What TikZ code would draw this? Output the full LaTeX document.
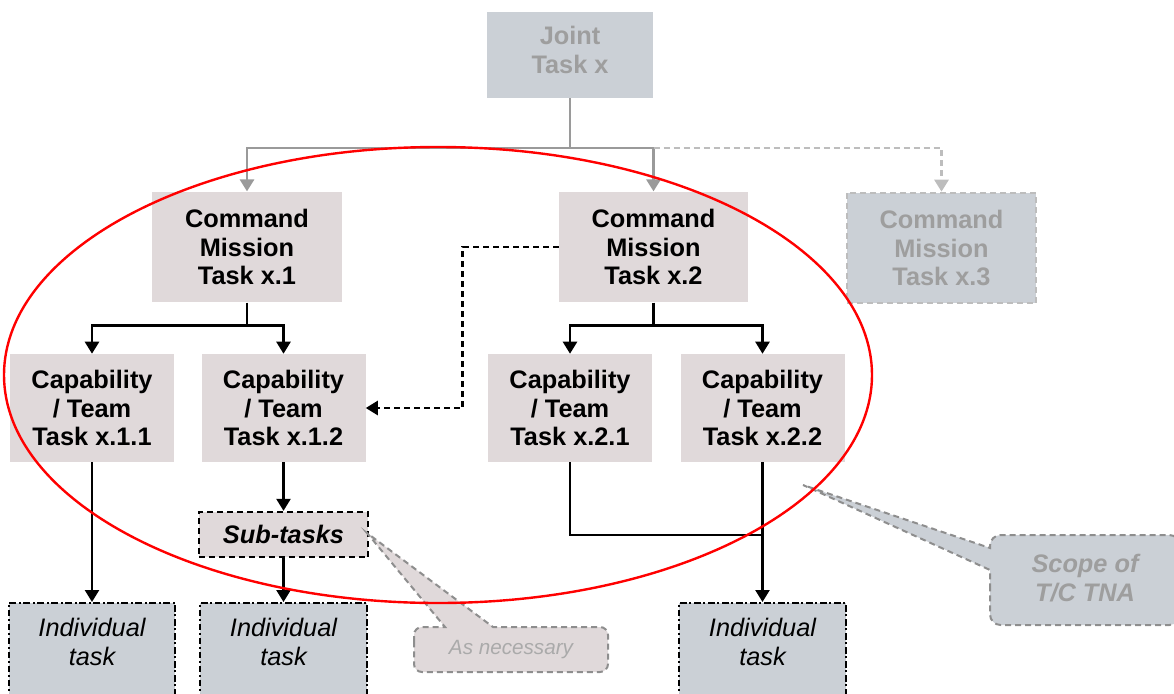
\documentclass[tikz,border=0pt]{standalone}
\usepackage{fontspec}
\setmainfont{Liberation Sans}
\usetikzlibrary{arrows.meta}
\definecolor{taskfill}{HTML}{E0D9DA}
\definecolor{jointfill}{HTML}{CBD0D6}
\definecolor{greytext}{HTML}{9E9E9E}
\definecolor{greyline}{HTML}{9A9A9A}
\definecolor{lightline}{HTML}{BDBDBD}
\definecolor{calloutline}{HTML}{8E8E8E}
\begin{document}
\begin{tikzpicture}[x=0.75pt,y=-0.75pt,
    font=\fontsize{19pt}{21.5pt}\selectfont\bfseries,
    taskbox/.style={fill=taskfill,align=center,inner sep=0pt,minimum width=142pt,minimum height=83pt},
    capbox/.style={taskbox,minimum width=123pt,minimum height=81pt},
    jointbox/.style={fill=jointfill,inner sep=0pt,minimum width=124pt,minimum height=64.5pt},
    indbox/.style={fill=jointfill,draw=black,line width=1.5pt,dash pattern=on 5pt off 2pt on 1.5pt off 2pt,
      inner sep=0pt,minimum width=125pt,minimum height=70.5pt},
    indtext/.style={align=center,font=\fontsize{19pt}{21.5pt}\selectfont\mdseries\itshape},
    boxdash/.style={line width=1.5pt,dash pattern=on 4.5pt off 3pt},
    link/.style={line width=1.8pt},
    arrow/.style={link,-{Triangle[width=10.5pt,length=9pt]}},
    greyarrow/.style={greyline,line width=2.2pt,-{Triangle[width=10.5pt,length=9pt]}},
    callout/.style={draw=calloutline,boxdash}]
  \useasboundingbox (0,0) rectangle (1174,693);
  \node[jointbox] (joint) at (570,55) {};
  \node[text=greytext,align=center] (jointtext) at (570,50) {Joint\\Task x};
  \node[taskbox] (cmd1) at (247,247) {Command\\Mission\\Task x.1};
  \node[taskbox] (cmd2) at (653.5,247) {Command\\Mission\\Task x.2};
  \node[taskbox,fill=jointfill,text=greytext,draw=lightline,boxdash] (cmd3) at (941.5,248) {Command\\Mission\\Task x.3};
  \node[capbox] (cap11) at (92,408) {Capability\\/ Team\\Task x.1.1};
  \node[capbox] (cap12) at (283.5,408) {Capability\\/ Team\\Task x.1.2};
  \node[capbox] (cap21) at (570,408) {Capability\\/ Team\\Task x.2.1};
  \node[capbox] (cap22) at (762.5,408) {Capability\\/ Team\\Task x.2.2};
  \node[taskbox,draw=black,boxdash,minimum width=127pt,minimum height=34pt,font=\fontsize{19pt}{21.5pt}\selectfont\bfseries\itshape] (sub) at (283.5,534.5) {Sub-tasks};
  \node[indbox] (ind1) at (92,650) {};
  \node[indbox] (ind2) at (283.5,650) {};
  \node[indbox] (ind3) at (762.5,650) {};
  \node[indtext] (ind1text) at (92,642) {Individual\\task};
  \node[indtext] (ind2text) at (283.5,642) {Individual\\task};
  \node[indtext] (ind3text) at (762.5,642) {Individual\\task};
  \coordinate (fork) at (570,148);
  \draw[greyline,line width=2.2pt] (joint) -- (fork);
  \draw[greyarrow] (fork) -| (cmd1);
  \draw[greyarrow] (fork) -| (cmd2);
  \draw[greyarrow,lightline,boxdash,line width=2.2pt] (cmd2.north |- fork) -| (cmd3);
  \draw[link] (cmd1.south) -- ++(0,23) coordinate (split1);
  \draw[arrow] (split1) -| (cap11);
  \draw[arrow] (split1) -| (cap12);
  \draw[link] (cmd2.south) -- ++(0,23) coordinate (split2);
  \draw[arrow] (split2) -| (cap21);
  \draw[arrow] (split2) -| (cap22);
  \draw[arrow,boxdash,line width=1.8pt] (cmd2.west) -- ++(-96,0) |- (cap12.east);
  \draw[arrow] (cap11) -- (ind1);
  \draw[arrow] (cap12) -- (sub);
  \draw[arrow] (sub) -- (ind2);
  \coordinate (join) at (762.5,535);
  \draw[link] (cap21.south) |- (join);
  \draw[arrow] (cap22) -- (ind3);
  \draw[callout,fill=taskfill] (414,650) [rounded corners=6pt] -- (414,627) [sharp corners] -- (445,627) -- (367,533) -- (493,627)
    [rounded corners=6pt] -- (608,627) -- (608,672) -- (414,672) -- cycle;
  \node[text=lightline!90!black,font=\fontsize{15.5pt}{18pt}\selectfont\mdseries\itshape] (asneeded) at (511,650) {As necessary};
  \draw[callout,fill=jointfill] (990,600) -- (990,570) -- (803,485) -- (990,548)
    [rounded corners=8pt] -- (990,535) -- (1180,535) -- (1180,625) -- (990,625) -- cycle;
  \node[text=greytext,align=center,font=\fontsize{19pt}{21.5pt}\selectfont\bfseries\itshape] (scope) at (1085,578) {Scope of\\T/C TNA};
  \coordinate (scopecentre) at (438,375);
  \draw[red,line width=1.8pt] (scopecentre) ellipse [x radius=325.5pt,y radius=171pt];
\end{tikzpicture}
\end{document}
